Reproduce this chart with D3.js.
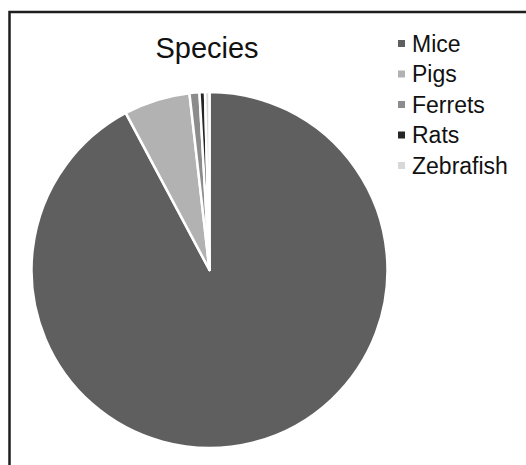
<!DOCTYPE html>
<html>
<head>
<meta charset="utf-8">
<script src="https://cdn.jsdelivr.net/npm/d3@7/dist/d3.min.js"></script>
<style>
  html, body { margin: 0; padding: 0; background: #fff; }
  svg { display: block; }
  text { font-family: "Liberation Sans", Arial, sans-serif; }
</style>
</head>
<body>
<svg id="chart" width="526" height="465"></svg>
<script>
// Share of studies by species (percent)
const species = ["Mice", "Pigs", "Ferrets", "Rats", "Zebrafish"];
const shares = [92.2, 6.0, 0.9, 0.5, 0.4];
const sliceColors = ["#5f5f5f", "#b2b2b2", "#8c8c8c", "#262626", "#d8d8d8"];
const chartTitle = "Species";

const svg = d3.select("#chart");

// Chart frame (continues past the right and bottom edges)
svg.append("rect")
  .attr("x", 9.5).attr("y", 12)
  .attr("width", 600).attr("height", 500)
  .attr("fill", "none")
  .attr("stroke", "#1e1e1e")
  .attr("stroke-width", 2.5);

// Title
svg.append("text")
  .attr("x", 207).attr("y", 58)
  .attr("text-anchor", "middle")
  .attr("font-size", 29)
  .attr("fill", "#111")
  .text(chartTitle);

// Pie
const cx = 209.5, cy = 270, radius = 178;
const data = species.map((s, i) => ({ name: s, value: shares[i] }));
const color = d3.scaleOrdinal().domain(species).range(sliceColors);

const pie = d3.pie().value(d => d.value).sort(null);
const arc = d3.arc().innerRadius(0).outerRadius(radius);

svg.append("g")
  .attr("transform", `translate(${cx},${cy})`)
  .selectAll("path")
  .data(pie(data))
  .join("path")
  .attr("d", arc)
  .attr("fill", d => color(d.data.name))
  .attr("stroke", "#fff")
  .attr("stroke-width", 2.5)
  .attr("stroke-linejoin", "round");

// Legend
const legend = svg.append("g").attr("transform", "translate(398,43.5)");
const rowGap = 30.5;
const items = legend.selectAll("g")
  .data(species)
  .join("g")
  .attr("transform", (d, i) => `translate(0,${i * rowGap})`);

items.append("rect")
  .attr("x", 0).attr("y", -3.5)
  .attr("width", 7).attr("height", 7)
  .attr("fill", d => color(d));

items.append("text")
  .attr("x", 14).attr("y", 0)
  .attr("dy", "0.35em")
  .attr("font-size", 23)
  .attr("fill", "#111")
  .text(d => d);
</script>
</body>
</html>
